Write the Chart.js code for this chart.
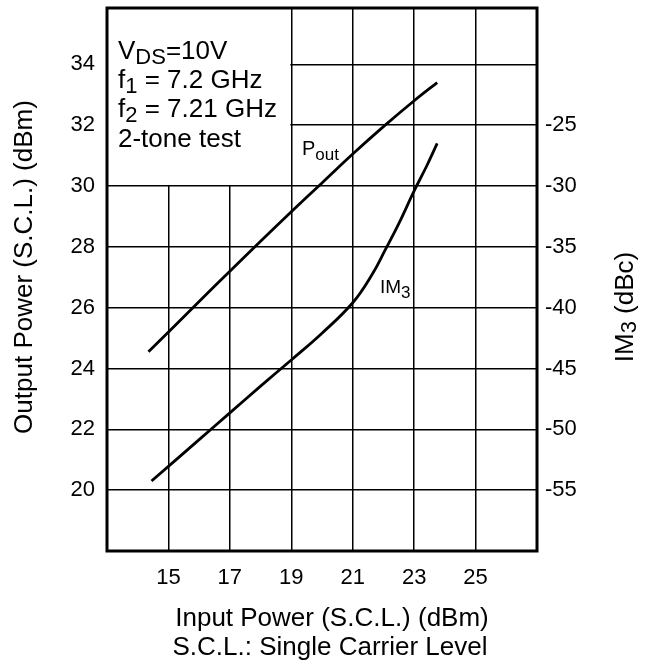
<!DOCTYPE html>
<html>
<head>
<meta charset="utf-8">
<script src="https://cdn.jsdelivr.net/npm/chart.js@4.4.1/dist/chart.umd.min.js"></script>
<style>
  body { margin: 0; background: #fff; }
  canvas { display: block; }
</style>
</head>
<body>
<canvas id="chart" width="650" height="667"></canvas>
<script>
// axis ticks
const xTicks = [15, 17, 19, 21, 23, 25];
const powerTicks = [20, 22, 24, 26, 28, 30, 32, 34];
const im3Ticks = [-55, -50, -45, -40, -35, -30, -25];

// Pout (dBm) vs input power
const poutIn = [14.35, 16, 17, 18, 19, 20, 21, 22, 23, 23.75];
const poutVal = [24.55, 26.2, 27.2, 28.18, 29.15, 30.1, 31.05, 31.95, 32.8, 33.4];

// IM3 (dBc) vs input power
const im3In = [14.45, 16, 17, 18, 19, 20, 21, 21.65, 22.05, 22.5, 23, 23.4, 23.75];
const im3Val = [-54.25, -50.85, -48.65, -46.45, -44.3, -42.1, -39.6, -37.2, -35.3, -33.1, -30.4, -28.4, -26.5];

const FONT = "'Liberation Sans', Arial, Helvetica, sans-serif";

function toPoints(xs, ys) {
  return xs.map((x, i) => ({ x: x, y: ys[i] }));
}

function fixTicks(list) {
  return (scale) => {
    scale.ticks = list.map((v) => ({ value: v }));
  };
}

function fitSize(prop, size) {
  return (s) => {
    s[prop] = size;
    s.paddingTop = 0;
    s.paddingBottom = 0;
    s.paddingLeft = 0;
    s.paddingRight = 0;
  };
}

// draws a run of [text, size, dy] pieces left to right
function drawRuns(ctx, runs, x, y) {
  let cx = x;
  runs.forEach(([text, size, dy]) => {
    ctx.font = size + "px " + FONT;
    ctx.fillText(text, cx, y + dy);
    cx += ctx.measureText(text).width;
  });
}

const annotations = {
  id: "annotations",
  beforeDatasetsDraw(chart) {
    const { ctx, chartArea, scales } = chart;
    // white legend box over the grid in the upper left corner
    const xr = scales.x.getPixelForValue(19);
    const yb = scales.y.getPixelForValue(30);
    ctx.save();
    ctx.fillStyle = "#fff";
    ctx.fillRect(chartArea.left, chartArea.top, xr - chartArea.left - 1, yb - chartArea.top - 1);
    ctx.restore();
  },
  afterDraw(chart) {
    const { ctx, chartArea } = chart;
    ctx.save();
    // frame
    ctx.strokeStyle = "#000";
    ctx.lineWidth = 3;
    ctx.strokeRect(chartArea.left, chartArea.top, chartArea.right - chartArea.left, chartArea.bottom - chartArea.top);

    ctx.fillStyle = "#000";
    ctx.textBaseline = "alphabetic";
    ctx.textAlign = "left";

    // conditions text
    drawRuns(ctx, [["V", 26, 0], ["DS", 22, 5], ["=10V", 26, 0]], 118, 59);
    drawRuns(ctx, [["f", 26, 0], ["1", 22, 5], [" = 7.2 GHz", 26, 0]], 118, 88);
    drawRuns(ctx, [["f", 26, 0], ["2", 22, 5], [" = 7.21 GHz", 26, 0]], 118, 117);
    drawRuns(ctx, [["2-tone test", 26, 0]], 118, 147);

    // curve labels
    drawRuns(ctx, [["P", 20, 0], ["out", 17, 5]], 302, 155);
    drawRuns(ctx, [["IM", 19, 0], ["3", 17, 5]], 380, 293);

    // x axis title
    ctx.textAlign = "center";
    ctx.font = "26px " + FONT;
    ctx.fillText("Input Power (S.C.L.) (dBm)", 332, 626);
    ctx.fillText("S.C.L.: Single Carrier Level", 330, 655);

    // left axis title
    ctx.save();
    ctx.translate(32, 267);
    ctx.rotate(-Math.PI / 2);
    ctx.fillText("Output Power (S.C.L.) (dBm)", 0, 0);
    ctx.restore();

    // right axis title with subscript
    ctx.save();
    ctx.translate(633, 307);
    ctx.rotate(-Math.PI / 2);
    ctx.textAlign = "left";
    ctx.font = "26px " + FONT;
    const w1 = ctx.measureText("IM").width;
    ctx.font = "22px " + FONT;
    const w2 = ctx.measureText("3").width;
    ctx.font = "26px " + FONT;
    const w3 = ctx.measureText(" (dBc)").width;
    drawRuns(ctx, [["IM", 26, 0], ["3", 22, 3], [" (dBc)", 26, 0]], -(w1 + w2 + w3) / 2, 0);
    ctx.restore();

    ctx.restore();
  },
};

new Chart(document.getElementById("chart"), {
  type: "line",
  data: {
    datasets: [
      {
        label: "Pout",
        data: toPoints(poutIn, poutVal),
        yAxisID: "y",
        borderColor: "#000",
        borderWidth: 2.8,
        pointRadius: 0,
        tension: 0.4,
      },
      {
        label: "IM3",
        data: toPoints(im3In, im3Val),
        yAxisID: "y2",
        borderColor: "#000",
        borderWidth: 2.8,
        pointRadius: 0,
        tension: 0.4,
      },
    ],
  },
  options: {
    responsive: false,
    animation: false,
    events: [],
    layout: { padding: { top: 8, left: 0, right: 0, bottom: 0 } },
    plugins: {
      legend: { display: false },
      tooltip: { enabled: false },
    },
    scales: {
      x: {
        type: "linear",
        min: 13,
        max: 27,
        afterBuildTicks: fixTicks(xTicks),
        afterFit: fitSize("height", 116),
        grid: { color: "#000", lineWidth: 1.5, drawTicks: false },
        border: { display: false },
        ticks: {
          color: "#000",
          font: { size: 22, family: FONT },
          padding: 14,
          maxRotation: 0,
          callback: (v) => String(v),
        },
      },
      y: {
        type: "linear",
        position: "left",
        min: 18,
        max: 35.85,
        afterBuildTicks: fixTicks(powerTicks),
        afterFit: fitSize("width", 107),
        grid: { color: "#000", lineWidth: 1.5, drawTicks: false },
        border: { display: false },
        ticks: {
          color: "#000",
          font: { size: 22, family: FONT },
          padding: 12,
          callback: (v) => String(v),
        },
      },
      y2: {
        type: "linear",
        position: "right",
        min: -60,
        max: -15.375,
        afterBuildTicks: fixTicks(im3Ticks),
        afterFit: fitSize("width", 113),
        grid: { display: false, drawTicks: false },
        border: { display: false },
        ticks: {
          color: "#000",
          font: { size: 22, family: FONT },
          padding: 8,
          callback: (v) => String(v),
        },
      },
    },
  },
  plugins: [annotations],
});
</script>
</body>
</html>
